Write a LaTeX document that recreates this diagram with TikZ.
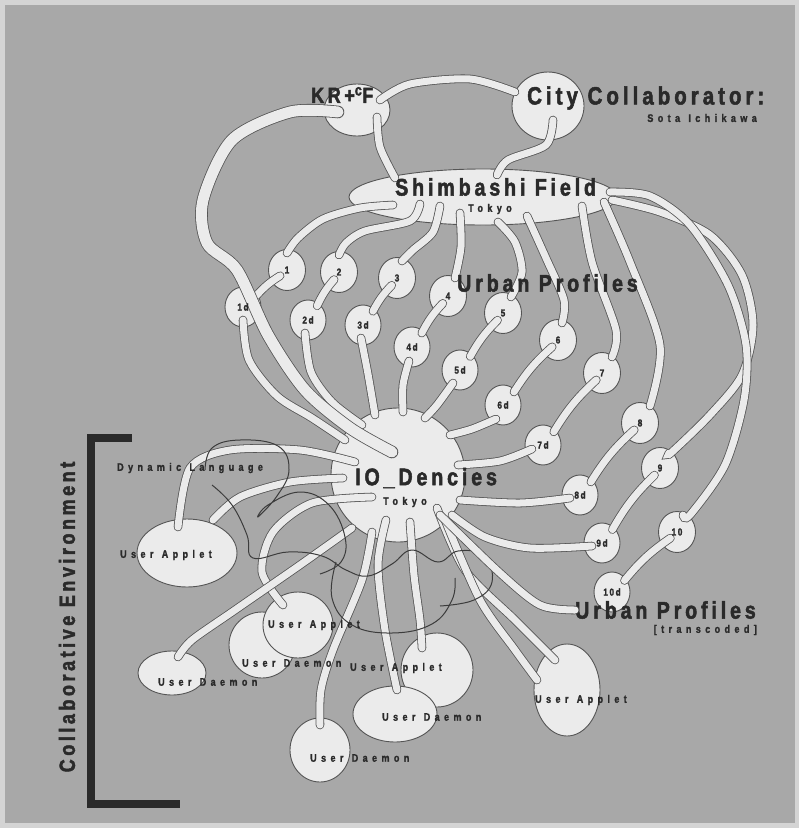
\documentclass[tikz,border=0pt]{standalone}
\usepackage{fontspec}
\setmainfont{Liberation Sans}
\newfontfamily\headface[FakeStretch=0.82,FakeBold=2,LetterSpace=16]{Liberation Sans}
\newfontfamily\tagface[FakeStretch=0.82,FakeBold=1.5,LetterSpace=40,WordSpace=1.2]{Liberation Sans}
\usetikzlibrary{calc, shapes.geometric}
\definecolor{rimg}{HTML}{D4D4D4}
\definecolor{paperg}{HTML}{A8A8A8}
\definecolor{blobfill}{HTML}{EBEBEB}
\definecolor{edgeg}{HTML}{555555}
\definecolor{inkg}{HTML}{2A2A2A}
\tikzset{
  blob/.style={ellipse, draw=edgeg, fill=blobfill, line width=0.9pt, inner sep=0pt},
  tube/.style={line cap=round, draw=edgeg, line width=0.8pt, double=blobfill, double distance=7pt},
  fattube/.style={tube, double distance=11pt},
  headlab/.style={text=inkg, inner sep=0pt, font=\headface\bfseries\fontsize{24}{24}\selectfont},
  taglab/.style={text=inkg, inner sep=0pt, font=\tagface\bfseries\fontsize{11}{11}\selectfont},
  numlab/.style={text=inkg, inner sep=0pt, font=\headface\bfseries\fontsize{10}{10}\selectfont},
  scribble/.style={draw=edgeg!70!black, line width=1pt},
  bracket/.style={draw=inkg, line width=8pt},
}
\begin{document}
\begin{tikzpicture}[x=1pt, y=-1pt]
\useasboundingbox (0,0) rectangle (799,828);
\fill[rimg] (0,0) rectangle (799,828);
\fill[paperg] (5,5) rectangle (795,823);

% top field
\node[blob, minimum width=66, minimum height=52] (kr) at (357,110) {};
\node[blob, minimum width=72, minimum height=68] (city) at (548,106) {};
\node[blob, minimum width=268, minimum height=56] (shim) at (483,197) {};
\node[blob, minimum size=134] (io) at (398,475) {};

% urban profiles and their transcoded twins
\foreach \n/\x/\y/\u/\v in {1/287/270/243/307, 2/339/272/308/320, 3/397/278/363/325,
    4/448/296/412/347, 5/503/313/460/370, 6/558/340/503/405, 7/602/373/543/445,
    8/640/423/580/495, 9/660/468/602/543, 10/677/532/612/592} {
  \node[blob, minimum width=37, minimum height=41] (p\n) at (\x,\y) {};
  \node[blob, minimum width=36, minimum height=40] (d\n) at (\u,\v) {};
}

% user nodes
\node[blob, minimum width=100, minimum height=68] (uaL) at (187,553) {};
\node[blob, minimum width=66, minimum height=66] (udM) at (262,645) {};
\node[blob, minimum width=70, minimum height=66] (uaM) at (298,625) {};
\node[blob, minimum width=68, minimum height=44] (udL) at (172,673) {};
\node[blob, minimum width=72, minimum height=74] (uaC) at (437,670) {};
\node[blob, minimum width=84, minimum height=56] (udC) at (395,714) {};
\node[blob, minimum width=60, minimum height=64] (udB) at (320,750) {};
\node[blob, minimum width=66, minimum height=92] (uaR) at (567,690) {};

% links at the top
\draw[tube] plot[smooth] coordinates {([shift={(23,-10)}]kr.center) (410,84) (470,79) ([shift={(-33,-14)}]city.center)};
\draw[tube] plot[smooth] coordinates {([shift={(20,7)}]kr.center) (380,147) ([shift={(-88,-19)}]shim.center)};
\draw[tube] plot[smooth] coordinates {([shift={(5,14)}]city.center) (546,145) (508,160) ([shift={(14,-22)}]shim.center)};

% field to profiles
\draw[tube] plot[smooth] coordinates {([shift={(-90,8)}]shim.center) (360,208) (323,219) (298,238) ([shift={(0,-17)}]p1.center)};
\draw[tube] plot[smooth] coordinates {([shift={(-63,7)}]shim.center) (410,221) (365,231) (346,243) ([shift={(0,-17)}]p2.center)};
\draw[tube] plot[smooth] coordinates {([shift={(-43,9)}]shim.center) (433,232) (413,250) ([shift={(5,-17)}]p3.center)};
\draw[tube] plot[smooth] coordinates {([shift={(-23,16)}]shim.center) (461,247) ([shift={(7,-18)}]p4.center)};
\draw[tube] plot[smooth] coordinates {([shift={(15,25)}]shim.center) (515,242) (522,272) ([shift={(8,-16)}]p5.center)};
\draw[tube] plot[smooth] coordinates {([shift={(44,19)}]shim.center) (546,258) (564,300) ([shift={(4,-17)}]p6.center)};
\draw[tube] plot[smooth] coordinates {([shift={(99,9)}]shim.center) (592,262) (616,330) ([shift={(10,-16)}]p7.center)};
\draw[tube] plot[smooth] coordinates {([shift={(121,5)}]shim.center) (630,262) (660,345) ([shift={(10,-17)}]p8.center)};
\draw[tube] plot[smooth] coordinates {([shift={(129,3)}]shim.center) (660,212) (710,235) (742,275) (753,325) (742,375) (710,415) (672,452) ([shift={(9,-15)}]p9.center)};
\draw[tube] plot[smooth] coordinates {([shift={(127,-5)}]shim.center) (650,196) (690,225) (728,285) (746,345) (744,400) (725,465) (690,515) ([shift={(6,-17)}]p10.center)};

% profile to transcoded profile
\foreach \n in {1,...,10}
  \draw[tube] ($(p\n)!9pt!(d\n)$) to[bend right=8] ($(d\n)!17pt!(p\n)$);

% transcoded profiles into IO_Dencies
\draw[tube] plot[smooth] coordinates {([shift={(0,13)}]d1.center) (249,360) (277,396) (312,418) ([shift={(-53,-35)}]io.center)};
\draw[tube] plot[smooth] coordinates {([shift={(-3,13)}]d2.center) (311,372) (332,402) ([shift={(-36,-50)}]io.center)};
\draw[tube] plot[smooth] coordinates {([shift={(-2,13)}]d3.center) (368,374) ([shift={(-23,-60)}]io.center)};
\draw[tube] plot[smooth] coordinates {([shift={(-3,14)}]d4.center) (403,385) ([shift={(5,-63)}]io.center)};
\draw[tube] plot[smooth] coordinates {([shift={(-7,13)}]d5.center) (437,405) ([shift={(27,-57)}]io.center)};
\draw[tube] plot[smooth] coordinates {([shift={(-7,14)}]d6.center) (472,429) ([shift={(52,-40)}]io.center)};
\draw[tube] plot[smooth] coordinates {([shift={(-11,4)}]d7.center) (500,461) ([shift={(60,-10)}]io.center)};
\draw[tube] plot[smooth] coordinates {([shift={(-10,3)}]d8.center) (520,503) ([shift={(62,25)}]io.center)};
\draw[tube] plot[smooth] coordinates {([shift={(-10,3)}]d9.center) (530,548) (485,537) ([shift={(54,40)}]io.center)};

% IO_Dencies out to the users
\draw[tube] plot[smooth] coordinates {([shift={(-43,-13)}]io.center) (300,450) (230,450) (190,468) ([shift={(-9,-26)}]uaL.center)};
\draw[tube] plot[smooth] coordinates {([shift={(-55,3)}]io.center) (290,482) (240,497) ([shift={(26,-33)}]uaL.center)};
\draw[tube] plot[smooth] coordinates {([shift={(-26,22)}]io.center) (312,503) (273,532) (262,572) ([shift={(-15,-20)}]uaM.center)};
\draw[tube] plot[smooth] coordinates {([shift={(-46,53)}]io.center) (300,565) (235,610) (192,640) ([shift={(6,-16)}]udL.center)};
\draw[tube] plot[smooth] coordinates {([shift={(-26,57)}]io.center) (362,580) (333,650) (321,690) ([shift={(0,-25)}]udB.center)};
\draw[tube] plot[smooth] coordinates {([shift={(-12,45)}]io.center) (378,565) (385,630) ([shift={(2,-24)}]udC.center)};
\draw[tube] plot[smooth] coordinates {([shift={(12,47)}]io.center) (414,575) (420,620) ([shift={(-15,-22)}]uaC.center)};
\draw[tube] plot[smooth] coordinates {([shift={(39,33)}]io.center) (465,570) (515,620) ([shift={(-12,-30)}]uaR.center)};
\draw[tube] plot[smooth] coordinates {([shift={(47,45)}]io.center) (480,600) (515,650) ([shift={(-30,-10)}]uaR.center)};

% the long return line from KR+cF
\draw[fattube] plot[smooth] coordinates {([shift={(-19,2)}]kr.center) (290,112) (232,140) (203,200) (207,243) (237,270) (268,335) (305,390) (350,428) ([shift={(-6,-23)}]io.center)};

% dynamic language scribble
\draw[scribble] plot[smooth, tension=0.7] coordinates {(205,470) (212,448) (240,440) (278,446) (289,470) (277,496) (258,517) (268,505) (300,492) (329,505) (345,537) (341,562) (320,574)};
\draw[scribble] plot[smooth, tension=0.7] coordinates {(212,485) (232,505) (247,535) (253,558) (288,552) (322,556) (346,570) (368,576) (392,564) (412,550) (438,562) (458,551) (484,556) (492,582) (474,600) (440,606)};
\draw[scribble] plot[smooth, tension=0.7] coordinates {(336,562) (332,598) (352,625) (392,633) (432,624) (452,600) (455,578)};

% collaborative environment bracket
\draw[bracket] (132,438) -- (91,438) -- (91,804) -- (180,804);

% labels
\node[headlab, anchor=west, font=\headface\bfseries\fontsize{22}{22}\selectfont] (tkr) at (311,95) {KR+\textsuperscript{c}F};
\node[headlab, anchor=west, font=\headface\bfseries\fontsize{25}{25}\selectfont] (tcity) at (527,98) {City Collaborator:};
\node[taglab, anchor=east] (tsota) at (757,118) {Sota Ichikawa};
\node[headlab, anchor=west] (tshim) at (395,187) {Shimbashi Field};
\node[taglab] (tshimtk) at (490,209) {Tokyo};
\node[headlab, anchor=west] (tup) at (457,283) {Urban Profiles};
\node[headlab, anchor=west] (tio) at (355,478) {IO\_Dencies};
\node[taglab] (tiotk) at (405,502) {Tokyo};
\node[headlab, anchor=west] (tul) at (575,610) {Urban Profiles};
\node[taglab, anchor=east] (ttrans) at (757,630) {[transcoded]};
\draw[tube] plot[smooth] coordinates {([shift={(42,40)}]io.center) (500,573) (540,605) (tul.west)};
\node[taglab, anchor=west] (tdyn) at (117,468) {Dynamic Language};
\node[taglab, anchor=west] (tuaL) at (120,555) {User Applet};
\node[taglab, anchor=west] (tuaM) at (268,625) {User Applet};
\node[taglab, anchor=west] (tudM) at (242,663) {User Daemon};
\node[taglab, anchor=west] (tudL) at (158,682) {User Daemon};
\node[taglab, anchor=west] (tuaC) at (350,668) {User Applet};
\node[taglab, anchor=west] (tudC) at (382,717) {User Daemon};
\node[taglab, anchor=west] (tudB) at (310,758) {User Daemon};
\node[taglab, anchor=west] (tuaR) at (535,700) {User Applet};
\node[headlab, rotate=90, font=\headface\bfseries\fontsize{22}{22}\selectfont] (tcoll) at (67,617) {Collaborative Environment};
\foreach \n in {1,...,10} {
  \node[numlab] (np\n) at (p\n) {\n};
  \node[numlab] (nd\n) at (d\n) {\n d};
}
\end{tikzpicture}
\end{document}
